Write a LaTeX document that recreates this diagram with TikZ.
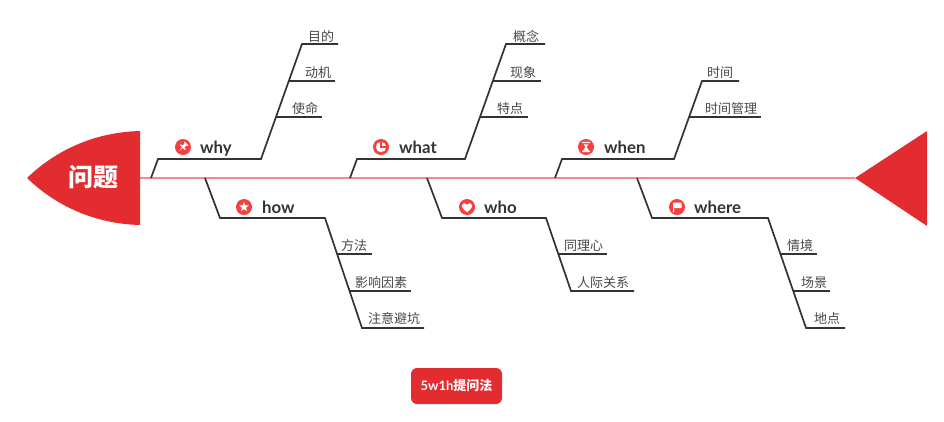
\documentclass[tikz,border=0pt]{standalone}
\usepackage{fontspec}
\usetikzlibrary{shapes.geometric}
\setmainfont{Lato}
\newfontfamily\cjk{Noto Sans CJK SC}
\definecolor{fishred}{HTML}{E32C2F}
\definecolor{iconred}{HTML}{F5403F}
\definecolor{spinered}{HTML}{F58A8A}
\definecolor{bonegray}{HTML}{333333}
\tikzset{
    bone/.style={draw=bonegray, line width=1.7pt, line join=miter},
    spine/.style={draw=spinered, line width=1.2pt},
    mainlabel/.style={anchor=base west, inner sep=0pt, text=bonegray, font=\fontsize{16.8}{17}\selectfont\bfseries},
    sublabel/.style={anchor=west, inner sep=0pt, text=bonegray!90, font=\fontsize{13}{13}\selectfont\cjk},
    iconball/.style={circle, fill=iconred, inner sep=0pt, minimum size=16pt},
}
\begin{document}
\begin{tikzpicture}[x=1pt, y=-1pt]
    \useasboundingbox (0,0) rectangle (944,421);

    \coordinate (spinestart) at (140,178);
    \coordinate (spineend) at (855,178);
    \draw[spine] (spinestart) -- (spineend);
    \fill[fishred] (27,178) .. controls (58,148) and (98,132) .. (140,131) -- (140,225) .. controls (98,224) and (58,208) .. (27,178) -- cycle;
    \fill[fishred] (spineend) -- (927,131) -- (927,226) -- cycle;
    \node[text=white, font=\fontsize{25}{25}\selectfont\cjk\bfseries] (problem) at (93.5,177.5) {问题};

    \coordinate (why0) at (151,178);
    \coordinate (why1) at (158,159);
    \coordinate (why2) at (261,159);
    \coordinate (why3) at (302,44);
    \coordinate (why4) at (338,44);
    \coordinate (whya) at (289,81);
    \coordinate (whyb) at (335,81);
    \coordinate (whyc) at (276,117);
    \coordinate (whyd) at (322,117);
    \draw[bone] (why0) -- (why1) -- (why2) -- (why3) -- (why4);
    \draw[bone] (whya) -- (whyb);
    \draw[bone] (whyc) -- (whyd);

    \coordinate (what0) at (350,178);
    \coordinate (what1) at (357,159);
    \coordinate (what2) at (465,159);
    \coordinate (what3) at (506,44);
    \coordinate (what4) at (545,44);
    \coordinate (whata) at (493,81);
    \coordinate (whatb) at (541,81);
    \coordinate (whatc) at (480,117);
    \coordinate (whatd) at (528,117);
    \draw[bone] (what0) -- (what1) -- (what2) -- (what3) -- (what4);
    \draw[bone] (whata) -- (whatb);
    \draw[bone] (whatc) -- (whatd);

    \coordinate (when0) at (555,178);
    \coordinate (when1) at (562,159);
    \coordinate (when2) at (674,159);
    \coordinate (when3) at (702,81);
    \coordinate (when4) at (739,81);
    \coordinate (whena) at (689,117);
    \coordinate (whenb) at (761,117);
    \draw[bone] (when0) -- (when1) -- (when2) -- (when3) -- (when4);
    \draw[bone] (whena) -- (whenb);

    \coordinate (how0) at (205,178);
    \coordinate (how1) at (220,218);
    \coordinate (how2) at (325,218);
    \coordinate (how3) at (362,328);
    \coordinate (how4) at (424,328);
    \coordinate (howa) at (337,254);
    \coordinate (howb) at (372,254);
    \coordinate (howc) at (350,291);
    \coordinate (howd) at (411,291);
    \draw[bone] (how0) -- (how1) -- (how2) -- (how3) -- (how4);
    \draw[bone] (howa) -- (howb);
    \draw[bone] (howc) -- (howd);

    \coordinate (who0) at (427,178);
    \coordinate (who1) at (442,218);
    \coordinate (who2) at (546,218);
    \coordinate (who3) at (571,291);
    \coordinate (who4) at (634,291);
    \coordinate (whoa) at (558,254);
    \coordinate (whob) at (607,254);
    \draw[bone] (who0) -- (who1) -- (who2) -- (who3) -- (who4);
    \draw[bone] (whoa) -- (whob);

    \coordinate (where0) at (637,178);
    \coordinate (where1) at (652,218);
    \coordinate (where2) at (768,218);
    \coordinate (where3) at (806,328);
    \coordinate (where4) at (845,328);
    \coordinate (wherea) at (781,254);
    \coordinate (whereb) at (817,254);
    \coordinate (wherec) at (794,291);
    \coordinate (whered) at (830,291);
    \draw[bone] (where0) -- (where1) -- (where2) -- (where3) -- (where4);
    \draw[bone] (wherea) -- (whereb);
    \draw[bone] (wherec) -- (whered);

    \node[iconball] (whyicon) at (183,147) {};
    \fill[white, shift={(whyicon.center)}, rotate=-45] (-2.5,-5) rectangle (2.5,-3.8) (-1.4,-3.8) rectangle (1.4,-0.5) (-3.4,-0.5) rectangle (3.4,0.8) (-0.6,0.8) -- (0.6,0.8) -- (0,6) -- cycle;
    \node[iconball] (howicon) at (244,207) {};
    \node[star, star points=5, star point ratio=2.3, fill=white, inner sep=0pt, minimum size=10pt] (howstar) at (howicon.center) {};
    \node[iconball] (whaticon) at (381,147) {};
    \fill[white] (whaticon.center) circle (5.2);
    \draw[iconred, line width=1.3pt] ([yshift=5.5pt]whaticon.center) -- (whaticon.center) -- ([xshift=5.5pt]whaticon.center);
    \node[iconball] (whenicon) at (586,147) {};
    \fill[white, shift={(whenicon.center)}] (-4,-5.2) rectangle (4,-3.9) (-4,3.9) rectangle (4,5.2) (-2.2,-2.6) -- (2.2,-2.6) -- (0.7,0) -- (3,3.9) -- (-3,3.9) -- (-0.7,0) -- cycle;
    \node[iconball] (whoicon) at (467,207) {};
    \fill[white, shift={(whoicon.center)}] (0,5) .. controls (-3,3) and (-5.5,0.5) .. (-5,-2) .. controls (-4.5,-4.5) and (-1.2,-4.5) .. (0,-2.2) .. controls (1.2,-4.5) and (4.5,-4.5) .. (5,-2) .. controls (5.5,0.5) and (3,3) .. (0,5) -- cycle;
    \node[iconball] (whereicon) at (677,207) {};
    \fill[white, shift={(whereicon.center)}] (-4,-4.5) rectangle (-3,5.2) (-3,-4.5) -- (4.5,-4.5) -- (4.5,1) -- (-3,1) -- cycle;

    \node[mainlabel] (whytext) at (200,153) {why};
    \node[mainlabel] (howtext) at (262,213) {how};
    \node[mainlabel] (whattext) at (399,153) {what};
    \node[mainlabel] (whentext) at (604,153) {when};
    \node[mainlabel] (whotext) at (484,213) {who};
    \node[mainlabel] (wheretext) at (694,213) {where};

    \node[sublabel] (aim) at (308,36) {目的};
    \node[sublabel] (motive) at (305,73) {动机};
    \node[sublabel] (mission) at (292,109) {使命};
    \node[sublabel] (concept) at (513,36) {概念};
    \node[sublabel] (scene) at (510,73) {现象};
    \node[sublabel] (feature) at (497,109) {特点};
    \node[sublabel] (timelabel) at (707,73) {时间};
    \node[sublabel] (timemanage) at (705,109) {时间管理};
    \node[sublabel] (method) at (341,246) {方法};
    \node[sublabel] (factor) at (355,283) {影响因素};
    \node[sublabel] (pitfall) at (368,319) {注意避坑};
    \node[sublabel] (empathy) at (564,246) {同理心};
    \node[sublabel] (relation) at (577,283) {人际关系};
    \node[sublabel] (context) at (787,246) {情境};
    \node[sublabel] (setting) at (801,283) {场景};
    \node[sublabel] (place) at (814,319) {地点};

    \node[fill=fishred, rounded corners=6pt, minimum width=91pt, minimum height=36pt, inner sep=0pt, text=white, font=\fontsize{13}{13}\selectfont\bfseries] (method5w) at (456.5,386) {5w1h{\cjk 提问法}};
\end{tikzpicture}
\end{document}
